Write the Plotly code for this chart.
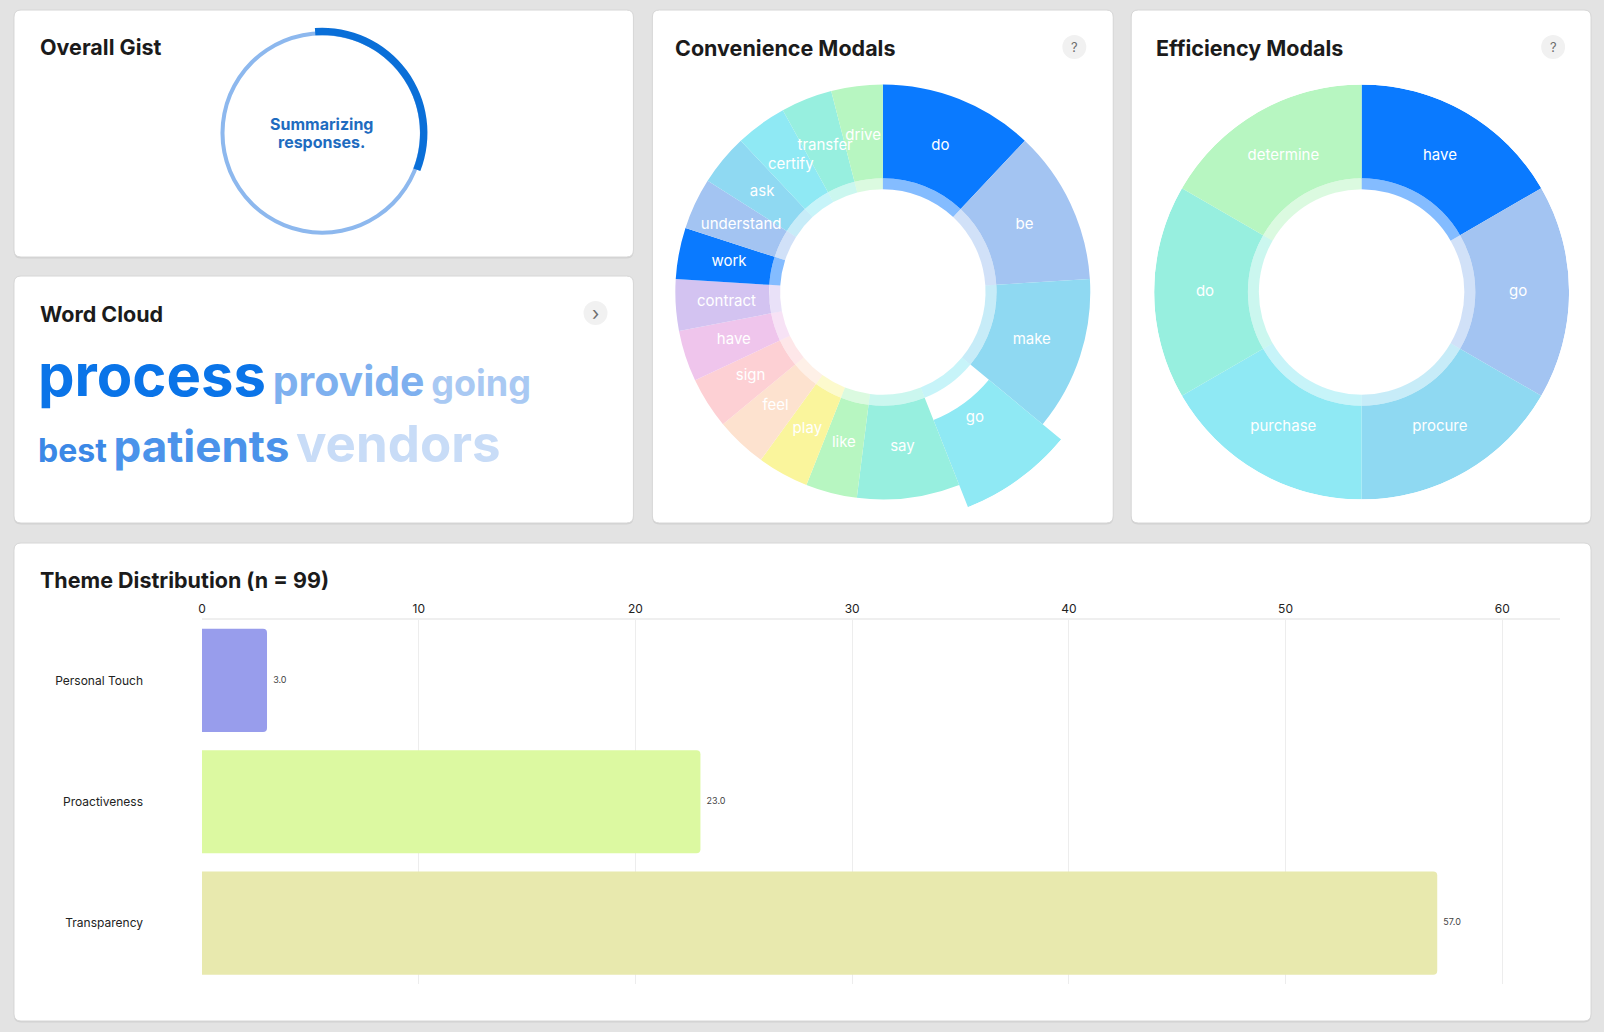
import plotly.graph_objects as go

W, H = 1604, 1032

# ---- data ----
gist_progress = 32  # percent of the loading ring that is filled

word_rows = [["process", "provide", "going"], ["best", "patients", "vendors"]]
word_sizes = [[58, 41, 36], [32, 44, 51]]
word_colors = [["#0a74e8", "#7eb0ef", "#a9c9f3"], ["#3b88e6", "#4b93ea", "#c8dcf7"]]

conv_labels = ["do", "be", "make", "go", "say", "like", "play", "feel", "sign", "have",
               "contract", "work", "understand", "ask", "certify", "transfer", "drive"]
conv_values = [3, 3, 3, 2, 2, 1, 1, 1, 1, 1, 1, 1, 1, 1, 1, 1, 1]
conv_selected = "go"

eff_labels = ["have", "go", "procure", "purchase", "do", "determine"]
eff_values = [1, 1, 1, 1, 1, 1]

theme_names = ["Personal Touch", "Proactiveness", "Transparency"]
theme_counts = [3, 23, 57]
theme_n = 99
theme_colors = ["#989dec", "#dcf9a1", "#e8e9ae"]

palette = ["#0a7aff", "#a3c4f2", "#8fd9f2", "#8fe9f4", "#97efdf", "#b7f6c1",
           "#faf59c", "#fde2cf", "#fdd0d4", "#efc5ec", "#d3c3f1"]

FONT = "Inter"

# donut geometry in pixels
R_OUT, R_IN, R_BAND, R_TEXT, PULL = 208, 114, 103, 157, 24


def px(x):
    return x / W


def py(y):
    return 1 - y / H


def dom(cx, cy, half):
    return dict(x=[px(cx - half), px(cx + half)], y=[py(cy + half), py(cy - half)])


def rgba(hex_color, a):
    h = hex_color.lstrip("#")
    r, g, b = int(h[0:2], 16), int(h[2:4], 16), int(h[4:6], 16)
    return f"rgba({r},{g},{b},{a})"


def card_path(x0, y0, x1, y1, r=7):
    rx, ry = r / W, r / H
    a, b, c, d = px(x0), px(x1), py(y1), py(y0)  # left, right, bottom, top
    return (f"M{a + rx},{d} L{b - rx},{d} Q{b},{d} {b},{d - ry} "
            f"L{b},{c + ry} Q{b},{c} {b - rx},{c} L{a + rx},{c} "
            f"Q{a},{c} {a},{c + ry} L{a},{d - ry} Q{a},{d} {a + rx},{d} Z")


fig = go.Figure()
polar_layouts = {}


def donut(labels, values, colors, center, polar_name, selected=None):
    total = sum(values)
    spans = [v / total * 360 for v in values]
    mids, acc = [], 0
    for s in spans:
        mids.append(acc + s / 2)
        acc += s
    outer = R_OUT + (PULL if selected else 0)
    bases = [R_IN + (PULL if lab == selected else 0) for lab in labels]
    # coloured ring
    fig.add_trace(go.Barpolar(
        r=[R_OUT - R_IN] * len(labels), base=bases, theta=mids, width=spans,
        marker=dict(color=colors, line=dict(width=0)), text=labels,
        hovertemplate="%{text}<extra></extra>", subplot=polar_name, showlegend=False))
    # pale inner band
    fig.add_trace(go.Barpolar(
        r=[R_IN - R_BAND] * len(labels), base=[R_BAND] * len(labels), theta=mids, width=spans,
        marker=dict(color=[rgba(c, 0.5) for c in colors], line=dict(width=0)),
        hoverinfo="skip", subplot=polar_name, showlegend=False))
    # labels at mid radius
    fig.add_trace(go.Scatterpolar(
        r=[R_TEXT] * len(labels), theta=mids, text=labels, mode="text",
        textfont=dict(family=FONT, size=15, color="white"),
        subplot=polar_name, hoverinfo="skip", showlegend=False))
    polar_layouts[polar_name] = dict(
        domain=dom(*center, outer), bgcolor="rgba(0,0,0,0)", bargap=0,
        radialaxis=dict(range=[0, outer], visible=False, showgrid=False),
        angularaxis=dict(direction="clockwise", rotation=90, visible=False, showgrid=False))


# ---- Overall Gist loading ring ----
gist_c = (319, 133)
fig.add_trace(go.Pie(
    values=[100], marker=dict(colors=["#8db8ee"], line=dict(width=0)),
    hole=0.96, domain=dom(*gist_c, 102), textinfo="none", hoverinfo="skip",
    sort=False, showlegend=False))
fig.add_trace(go.Pie(
    values=[gist_progress, 100 - gist_progress],
    marker=dict(colors=["#0a6fd8", "rgba(0,0,0,0)"], line=dict(width=0)),
    hole=0.93, domain=dom(*gist_c, 105.5), textinfo="none", hoverinfo="skip",
    sort=False, direction="clockwise", rotation=-4, showlegend=False))

# ---- Convenience / Efficiency donuts ----
conv_colors = [palette[i % len(palette)] for i in range(len(conv_labels))]
donut(conv_labels, conv_values, conv_colors, (881, 292), "polar", conv_selected)

eff_colors = [palette[i % len(palette)] for i in range(len(eff_labels))]
donut(eff_labels, eff_values, eff_colors, (1361, 292), "polar2")

# ---- Theme Distribution bars ----
fig.add_trace(go.Bar(
    x=theme_counts, y=theme_names, orientation="h",
    marker=dict(color=theme_colors, line=dict(width=0)),
    hoverinfo="x+y", showlegend=False))
fig.add_trace(go.Scatter(
    x=theme_counts, y=theme_names, mode="text",
    text=[f"\u2002\u2009{v:.1f}" for v in theme_counts], textposition="middle right",
    textfont=dict(family=FONT, size=9, color="#444444"),
    cliponaxis=False, hoverinfo="skip", showlegend=False))

# ---- cards ----
cards = [(10, 10, 631, 257), (10, 276, 631, 523), (650, 10, 1112, 523),
         (1130, 10, 1591, 523), (10, 543, 1591, 1021)]
shapes = []
for (x0, y0, x1, y1) in cards:
    shapes.append(dict(type="path", xref="paper", yref="paper",
                       path=card_path(x0, y0 + 1.5, x1, y1 + 1.5),
                       fillcolor="#d2d2d2", line=dict(width=0), layer="below"))
    shapes.append(dict(type="path", xref="paper", yref="paper",
                       path=card_path(x0, y0, x1, y1),
                       fillcolor="white", line=dict(color="#d6d6d6", width=1), layer="below"))

# small round buttons
buttons = [((1073, 47), "?"), ((1553, 47), "?"), ((593, 313), "›")]
annotations = []
for (bx, by), glyph in buttons:
    shapes.append(dict(type="circle", xref="paper", yref="paper",
                       x0=px(bx - 12), x1=px(bx + 12), y0=py(by + 12), y1=py(by - 12),
                       fillcolor="#f1f1f1", line=dict(width=0)))
    annotations.append(dict(x=px(bx), y=py(by), xref="paper", yref="paper",
                            xanchor="center", yanchor="middle",
                            text=glyph, showarrow=False,
                            font=dict(family=FONT, size=13 if glyph == "?" else 19,
                                      color="#6e6e6e")))

titles = [("Overall Gist", 34, 47), ("Word Cloud", 34, 314),
          ("Convenience Modals", 671, 48), ("Efficiency Modals", 1153, 48),
          (f"Theme Distribution (n = {theme_n})", 34, 580)]
for text, tx, ty in titles:
    annotations.append(dict(x=px(tx), y=py(ty), xref="paper", yref="paper",
                            xanchor="left", yanchor="middle", text=text, showarrow=False,
                            font=dict(family=FONT, size=21.5, color="#1b1b1b", weight=700)))

for line, ly in zip(["Summarizing", "responses."], [124, 142]):
    annotations.append(dict(x=px(gist_c[0] - 1), y=py(ly), xref="paper", yref="paper",
                            xanchor="center", yanchor="middle", text=line, showarrow=False,
                            font=dict(family=FONT, size=16, color="#1f6cc0", weight=700)))

# word cloud rows
row_y = [375, 443]
for words, sizes, colors, ry in zip(word_rows, word_sizes, word_colors, row_y):
    spans = " ".join(f"<span style='font-size:{s}px;color:{c}'>{w}</span>"
                     for w, s, c in zip(words, sizes, colors))
    annotations.append(dict(x=px(32), y=py(ry), xref="paper", yref="paper",
                            xanchor="left", yanchor="middle", text=spans, showarrow=False,
                            font=dict(family=FONT, size=28, color="#0a74e8", weight=700)))

fig.update_layout(
    width=W, height=H, autosize=False,
    margin=dict(l=0, r=0, t=0, b=0),
    paper_bgcolor="#e3e3e3", plot_bgcolor="rgba(0,0,0,0)",
    font=dict(family=FONT, color="#222222"),
    shapes=shapes, annotations=annotations,
    bargap=0.15, barcornerradius=4,
    xaxis=dict(domain=[px(198.5), px(1560)], range=[0, 62.67], side="top",
               tickvals=[0, 10, 20, 30, 40, 50, 60], showgrid=True,
               gridcolor="#ededed", gridwidth=1, zeroline=False,
               showline=True, linecolor="#efefef", linewidth=2,
               tickfont=dict(family=FONT, size=12, color="#222222"), fixedrange=True),
    yaxis=dict(domain=[py(983.75), py(619.75)], autorange="reversed",
               showgrid=False, zeroline=False, showline=False,
               ticklabelstandoff=58,
               tickfont=dict(family=FONT, size=12, color="#222222"), fixedrange=True),
    **polar_layouts,
)

fig.write_html("out.html", config={"displayModeBar": False},
               post_script="document.body.style.margin='0px';")
